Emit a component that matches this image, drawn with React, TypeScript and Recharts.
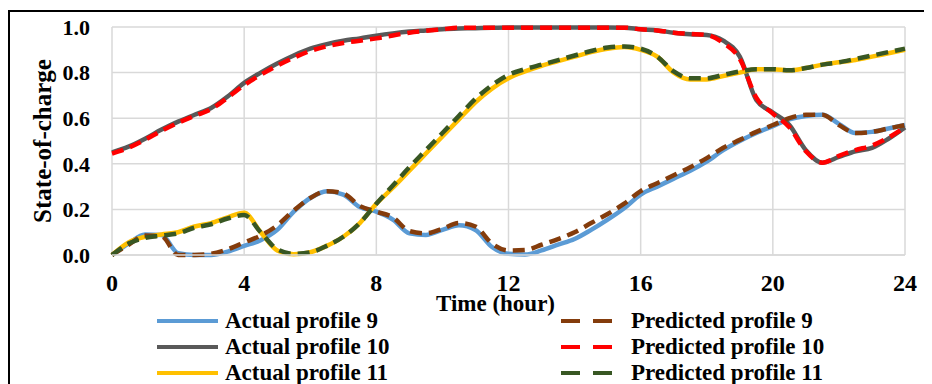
import React from 'react'
import { LineChart, Line, XAxis, YAxis, CartesianGrid, Label } from 'recharts'

// half-hour samples over one day
const hours = [
  0, 0.5, 1, 1.5, 2, 2.5, 3, 3.5, 4, 4.5, 5, 5.5, 6, 6.5, 7, 7.5, 8, 8.5, 9, 9.5,
  10, 10.5, 11, 11.5, 12, 12.5, 13, 13.5, 14, 14.5, 15, 15.5, 16, 16.5, 17, 17.5,
  18, 18.5, 19, 19.5, 20, 20.5, 21, 21.5, 22, 22.5, 23, 23.5, 24,
]

const actual9 = [
  0, 0.05, 0.09, 0.088, 0.008, 0, 0, 0.015, 0.04, 0.065, 0.11, 0.19, 0.25, 0.28, 0.265, 0.21,
  0.19, 0.155, 0.095, 0.088, 0.11, 0.13, 0.11, 0.035, 0.005, 0.002, 0.02, 0.045, 0.07, 0.11,
  0.155, 0.205, 0.265, 0.3, 0.335, 0.37, 0.41, 0.46, 0.5, 0.535, 0.565, 0.595, 0.61, 0.615,
  0.575, 0.535, 0.54, 0.555, 0.57,
]
const actual10 = [
  0.45, 0.475, 0.51, 0.55, 0.585, 0.615, 0.645, 0.695, 0.755, 0.8, 0.84, 0.875, 0.905, 0.925,
  0.94, 0.95, 0.962, 0.972, 0.98, 0.985, 0.99, 0.993, 0.995, 0.997, 0.998, 0.998, 0.998, 0.998,
  0.998, 0.998, 0.998, 0.997, 0.99, 0.985, 0.975, 0.968, 0.965, 0.94, 0.87, 0.68, 0.625, 0.57,
  0.46, 0.405, 0.43, 0.455, 0.47, 0.51, 0.56,
]
const actual11 = [
  0, 0.055, 0.08, 0.09, 0.1, 0.125, 0.14, 0.165, 0.185, 0.1, 0.02, 0.003, 0.012, 0.04, 0.08,
  0.14, 0.225, 0.295, 0.37, 0.445, 0.52, 0.595, 0.67, 0.73, 0.775, 0.805, 0.83, 0.85, 0.87,
  0.89, 0.905, 0.912, 0.9, 0.87, 0.8, 0.77, 0.77, 0.785, 0.8, 0.815, 0.815, 0.81, 0.82, 0.835,
  0.845, 0.855, 0.87, 0.885, 0.9,
]
const predicted9 = [
  0, 0.045, 0.085, 0.082, 0, 0, 0.005, 0.025, 0.055, 0.085, 0.13, 0.195, 0.25, 0.28, 0.27,
  0.215, 0.19, 0.165, 0.105, 0.095, 0.115, 0.14, 0.125, 0.05, 0.02, 0.022, 0.045, 0.07, 0.1,
  0.14, 0.18, 0.225, 0.28, 0.315, 0.35, 0.385, 0.425, 0.47, 0.505, 0.54, 0.57, 0.6, 0.615,
  0.615, 0.57, 0.535, 0.54, 0.555, 0.57,
]
const predicted10 = [
  0.445, 0.47, 0.505, 0.545, 0.58, 0.61, 0.64, 0.69, 0.745, 0.79, 0.83, 0.865, 0.895, 0.915,
  0.93, 0.94, 0.95, 0.963, 0.975, 0.983, 0.99, 0.997, 0.997, 0.997, 0.997, 0.997, 0.997, 0.997,
  0.997, 0.997, 0.997, 0.997, 0.99, 0.985, 0.975, 0.97, 0.965, 0.93, 0.86, 0.69, 0.62, 0.56,
  0.455, 0.405, 0.435, 0.46, 0.48, 0.515, 0.56,
]
const predicted11 = [
  0, 0.05, 0.075, 0.085, 0.095, 0.12, 0.135, 0.16, 0.175, 0.1, 0.025, 0.005, 0.012, 0.04, 0.08,
  0.14, 0.225, 0.305, 0.385, 0.46, 0.535, 0.61, 0.685, 0.745, 0.79, 0.815, 0.835, 0.855, 0.875,
  0.895, 0.91, 0.915, 0.905, 0.87, 0.805, 0.775, 0.775, 0.79, 0.805, 0.815, 0.815, 0.81, 0.82,
  0.835, 0.845, 0.86, 0.875, 0.89, 0.905,
]

const xTicks = [0, 4, 8, 12, 16, 20, 24]
const yTicks = [0, 0.2, 0.4, 0.6, 0.8, 1.0]

const rows = hours.map((h, i) => ({
  hour: h,
  a9: actual9[i],
  a10: actual10[i],
  a11: actual11[i],
  p9: predicted9[i],
  p10: predicted10[i],
  p11: predicted11[i],
}))

const series = [
  { key: 'a9', name: 'Actual profile 9', color: '#5B9BD5', dashed: false },
  { key: 'a10', name: 'Actual profile 10', color: '#595959', dashed: false },
  { key: 'a11', name: 'Actual profile 11', color: '#FFC000', dashed: false },
  { key: 'p9', name: 'Predicted profile 9', color: '#843C0C', dashed: true },
  { key: 'p10', name: 'Predicted profile 10', color: '#FF0000', dashed: true },
  { key: 'p11', name: 'Predicted profile 11', color: '#385723', dashed: true },
]

const serif = "'Liberation Serif', 'Times New Roman', serif"

function LegendColumn({ items, left, sampleWidth, gap, dash }: any) {
  return (
    <div style={{ position: 'absolute', left, top: 300 }}>
      {items.map((s: any) => (
        <div key={s.key} style={{ display: 'flex', alignItems: 'center', height: 26 }}>
          <svg width={sampleWidth} height={6} style={{ display: 'block' }}>
            <line
              x1={0}
              y1={3}
              x2={sampleWidth}
              y2={3}
              stroke={s.color}
              strokeWidth={4}
              strokeDasharray={dash}
              strokeLinecap="butt"
            />
          </svg>
          <span
            style={{
              marginLeft: gap,
              fontFamily: serif,
              fontWeight: 'bold',
              fontSize: 23,
              lineHeight: '26px',
              color: '#000',
              whiteSpace: 'nowrap',
            }}
          >
            {s.name}
          </span>
        </div>
      ))}
    </div>
  )
}

export default function App() {
  return (
    <div style={{ position: 'relative', width: 924, height: 376, overflow: 'hidden', background: '#fff' }}>
      <div
        style={{
          position: 'absolute',
          left: 0,
          top: 2,
          width: 960,
          height: 420,
          border: '2px solid #000',
          boxSizing: 'border-box',
        }}
      />
      <div style={{ position: 'absolute', left: 0, top: 0 }}>
        <LineChart width={924} height={376} data={rows} margin={{ top: 19, right: 27, left: 44, bottom: 89 }}>
          <CartesianGrid stroke="#d9d9d9" strokeWidth={1.5} />
          <XAxis
            dataKey="hour"
            type="number"
            domain={[0, 24]}
            ticks={xTicks}
            height={40}
            axisLine={{ stroke: '#d9d9d9', strokeWidth: 1.5 }}
            tickLine={false}
            tickMargin={13}
            tick={{ fill: '#000', fontSize: 24, fontWeight: 'bold', fontFamily: serif }}
          >
            <Label
              value="Time (hour)"
              position="insideTop"
              offset={40}
              dx={-13}
              style={{ fill: '#000', fontSize: 23, fontWeight: 'bold', fontFamily: serif }}
            />
          </XAxis>
          <YAxis
            type="number"
            domain={[0, 1]}
            ticks={yTicks}
            width={60}
            axisLine={false}
            tickLine={false}
            tickMargin={16}
            tickFormatter={(v: number) => v.toFixed(1)}
            tick={{ fill: '#000', fontSize: 22, fontWeight: 'bold', fontFamily: serif }}
          >
            <Label
              content={({ viewBox }: any) => (
                <text
                  transform={`translate(${viewBox.x - 10}, ${viewBox.y + viewBox.height / 2}) rotate(-90)`}
                  textAnchor="middle"
                  dominantBaseline="central"
                  fill="#000"
                  fontSize={25}
                  fontWeight="bold"
                  fontFamily={serif}
                >
                  State-of-charge
                </text>
              )}
            />
          </YAxis>
          {series.map((s) => (
            <Line
              key={s.key}
              dataKey={s.key}
              name={s.name}
              type="monotone"
              stroke={s.color}
              strokeWidth={4.5}
              strokeDasharray={s.dashed ? '12 7' : undefined}
              dot={false}
              activeDot={false}
              isAnimationActive={false}
            />
          ))}
        </LineChart>
      </div>
      <LegendColumn items={series.filter((s) => !s.dashed)} left={149} sampleWidth={61} gap={7} />
      <LegendColumn items={series.filter((s) => s.dashed)} left={553} sampleWidth={51} gap={19} dash="19 13" />
    </div>
  )
}
